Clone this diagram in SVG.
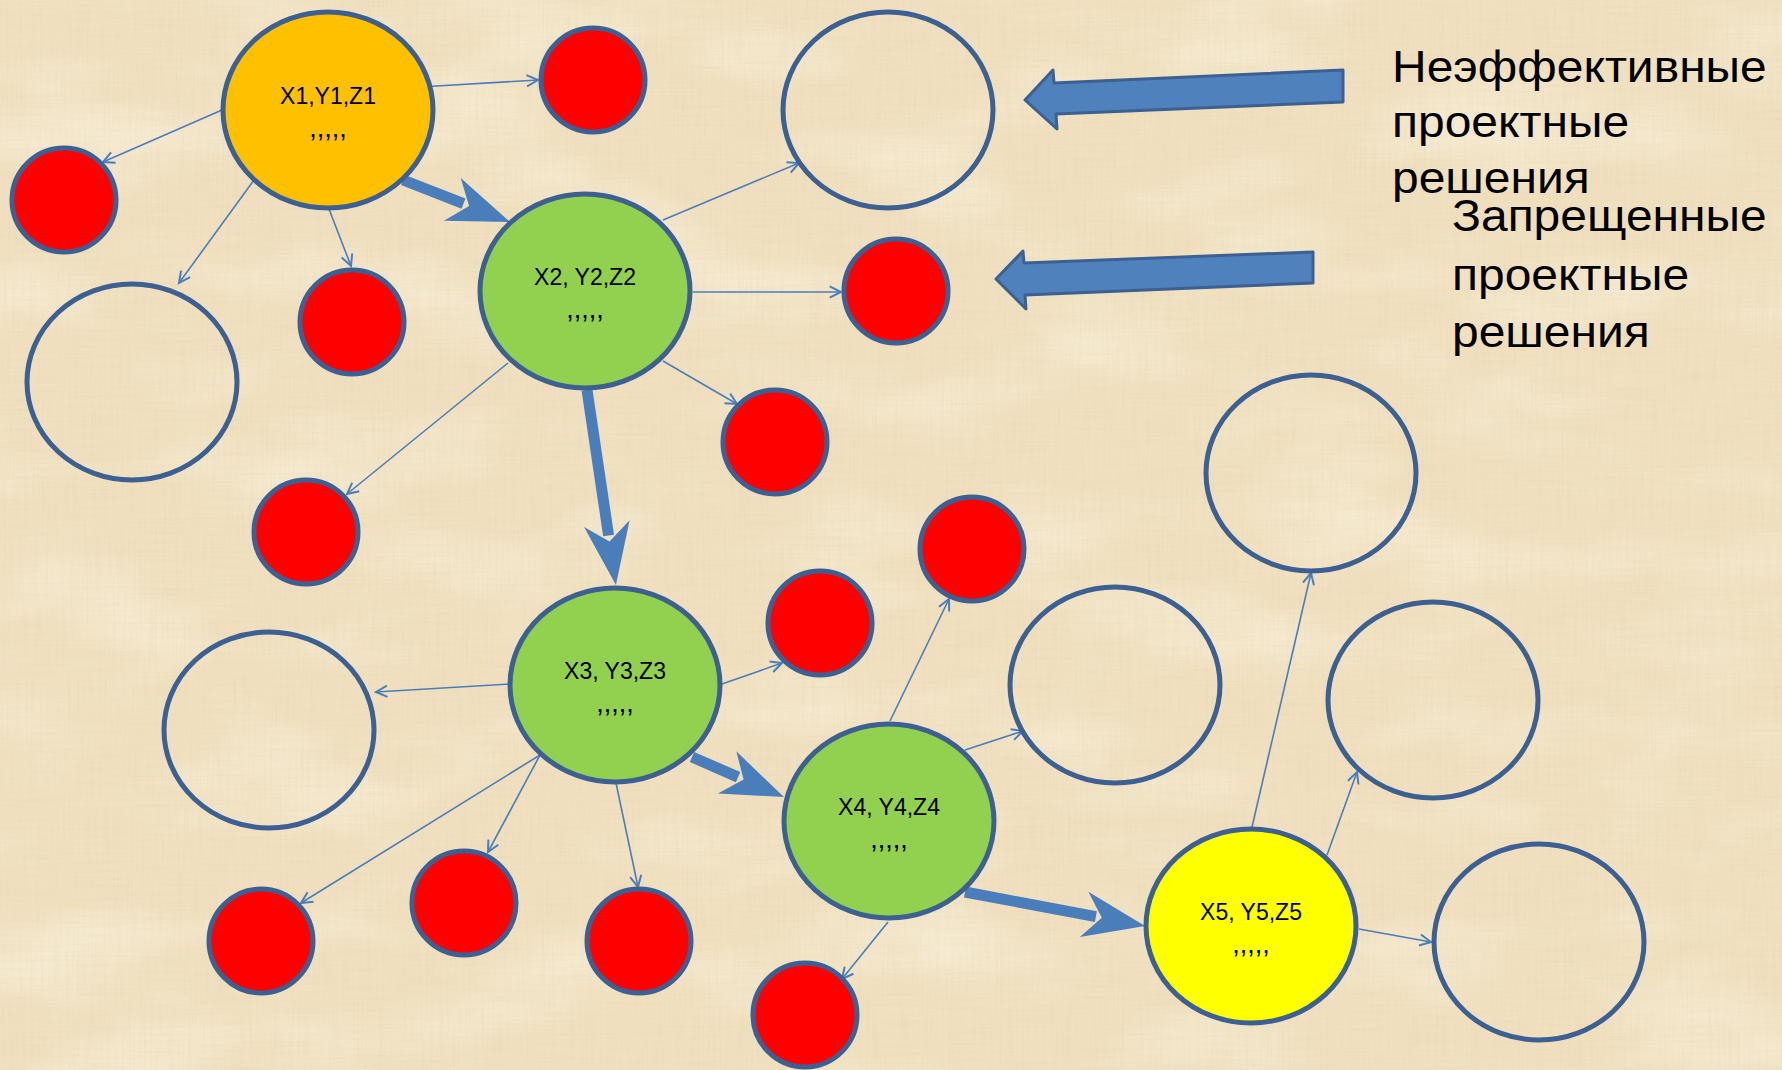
<svg xmlns="http://www.w3.org/2000/svg" width="1782" height="1070" viewBox="0 0 1782 1070">
  <defs>
    <style>
      .node { stroke: #3B6091; stroke-width: 5; }
      .empty { fill: none; }
      .red { fill: #FF0000; }
      .green { fill: #92D050; }
      .label { font-family: "Liberation Sans", Arial, sans-serif; font-size: 23px; fill: #000; text-anchor: middle; }
      .dots { font-family: "Liberation Sans", Arial, sans-serif; font-size: 27px; fill: #000; text-anchor: middle; }
      .note { font-family: "Liberation Sans", Arial, sans-serif; font-size: 45px; fill: #000; }
      .thin { stroke: #4A7EBB; stroke-width: 1.6; fill: none; marker-end: url(#open); }
      .thick { stroke: #4A7EBB; stroke-width: 11; fill: none; marker-end: url(#stealth); }
      .block { fill: #4F81BD; stroke: #3B6091; stroke-width: 3; stroke-linejoin: round; }
    </style>
    <marker id="open" markerUnits="userSpaceOnUse" orient="auto" markerWidth="20" markerHeight="20" refX="0" refY="0" viewBox="-12 -8 14 16" overflow="visible">
      <path d="M-9,-4.5 L0,0 L-9,4.5" fill="none" stroke="#4A7EBB" stroke-width="1.6"/>
    </marker>
    <marker id="stealth" markerUnits="userSpaceOnUse" orient="auto" markerWidth="80" markerHeight="60" refX="0" refY="0" viewBox="-20 -30 80 60" overflow="visible">
      <path d="M50,0 L-12,-23 L6,0 L-12,23 Z" fill="#4A7EBB"/>
    </marker>
    <filter id="fibresV" x="0" y="0" width="100%" height="100%">
      <feTurbulence type="fractalNoise" baseFrequency="0.45 0.015" numOctaves="2" seed="4"/>
      <feColorMatrix type="matrix" values="0 0 0 0 0.72  0 0 0 0 0.6  0 0 0 0 0.38  1.8 0 0 0 -0.8"/>
    </filter>
    <filter id="fibresH" x="0" y="0" width="100%" height="100%">
      <feTurbulence type="fractalNoise" baseFrequency="0.015 0.45" numOctaves="2" seed="9"/>
      <feColorMatrix type="matrix" values="0 0 0 0 0.72  0 0 0 0 0.6  0 0 0 0 0.38  1.8 0 0 0 -0.8"/>
    </filter>
    <filter id="mottle" x="0" y="0" width="100%" height="100%">
      <feTurbulence type="fractalNoise" baseFrequency="0.005 0.012" numOctaves="3" seed="2"/>
      <feColorMatrix type="matrix" values="0 0 0 0 1  0 0 0 0 0.97  0 0 0 0 0.88  2 0 0 0 -0.9"/>
    </filter>
  </defs>

  <!-- parchment background -->
  <rect width="1782" height="1070" fill="#F0E0BF"/>
  <rect width="1782" height="1070" filter="url(#mottle)" opacity="0.45"/>
  <rect width="1782" height="1070" filter="url(#fibresV)" opacity="0.22"/>
  <rect width="1782" height="1070" filter="url(#fibresH)" opacity="0.2"/>

  <!-- connectors -->
  <g id="connectors">
    <line class="thin" x1="420" y1="87" x2="538" y2="80"/>
    <line class="thin" x1="222" y1="110" x2="103" y2="162"/>
    <line class="thin" x1="254" y1="180" x2="179" y2="283"/>
    <line class="thin" x1="329" y1="209" x2="351" y2="266"/>
    <line class="thin" x1="663" y1="220" x2="799" y2="163"/>
    <line class="thin" x1="693" y1="292" x2="841" y2="292"/>
    <line class="thin" x1="663" y1="361" x2="737" y2="404"/>
    <line class="thin" x1="508" y1="363" x2="347" y2="494"/>
    <line class="thin" x1="510" y1="684" x2="376" y2="692"/>
    <line class="thin" x1="540" y1="755" x2="301" y2="903"/>
    <line class="thin" x1="540" y1="755" x2="488" y2="852"/>
    <line class="thin" x1="616" y1="783" x2="638" y2="887"/>
    <line class="thin" x1="722" y1="684" x2="782" y2="663"/>
    <line class="thin" x1="890" y1="721" x2="949" y2="599"/>
    <line class="thin" x1="965" y1="750" x2="1023" y2="731"/>
    <line class="thin" x1="888" y1="922" x2="842" y2="979"/>
    <line class="thin" x1="1252" y1="827" x2="1311" y2="573"/>
    <line class="thin" x1="1327" y1="855" x2="1357" y2="772"/>
    <line class="thin" x1="1359" y1="929" x2="1431" y2="942"/>

    <line class="thick" x1="403" y1="180" x2="463.5" y2="203.7"/>
    <line class="thick" x1="587" y1="390" x2="608.6" y2="535.5"/>
    <line class="thick" x1="692" y1="757" x2="738.1" y2="777.1"/>
    <line class="thick" x1="965" y1="892" x2="1095.9" y2="916.7"/>

    <polygon class="block" points="1343,70 1343,102 1056,114 1057,129 1025,100 1053,70 1054,83"/>
    <polygon class="block" points="1313,252 1313,283 1025,295 1026,309 996,279 1023,251 1024,263"/>
  </g>

  <!-- solution nodes -->
  <g id="n1">
    <ellipse class="node" cx="328" cy="110" rx="105" ry="98" fill="#FFC000"/>
    <text class="label" x="328" y="104">X1,Y1,Z1</text>
    <text class="dots" x="328" y="137">,,,,,</text>
  </g>
  <g id="n2">
    <ellipse class="node green" cx="585" cy="291" rx="105" ry="97"/>
    <text class="label" x="585" y="285">X2, Y2,Z2</text>
    <text class="dots" x="585" y="318">,,,,,</text>
  </g>
  <g id="n3">
    <ellipse class="node green" cx="615" cy="685" rx="105" ry="97"/>
    <text class="label" x="615" y="679">X3, Y3,Z3</text>
    <text class="dots" x="615" y="712">,,,,,</text>
  </g>
  <g id="n4">
    <ellipse class="node green" cx="889" cy="821" rx="105" ry="97"/>
    <text class="label" x="889" y="815">X4, Y4,Z4</text>
    <text class="dots" x="889" y="848">,,,,,</text>
  </g>
  <g id="n5">
    <ellipse class="node" cx="1251" cy="926" rx="105" ry="97" fill="#FFFF00"/>
    <text class="label" x="1251" y="920">X5, Y5,Z5</text>
    <text class="dots" x="1251" y="953">,,,,,</text>
  </g>

  <!-- inefficient (empty) solutions -->
  <g id="e1"><ellipse class="node empty" cx="888" cy="110" rx="105" ry="98"/></g>
  <g id="e2"><ellipse class="node empty" cx="132" cy="382" rx="105" ry="98"/></g>
  <g id="e3"><ellipse class="node empty" cx="269" cy="730" rx="105" ry="98"/></g>
  <g id="e4"><ellipse class="node empty" cx="1115" cy="685" rx="105" ry="98"/></g>
  <g id="e5"><ellipse class="node empty" cx="1311" cy="473" rx="105" ry="98"/></g>
  <g id="e6"><ellipse class="node empty" cx="1433" cy="700" rx="105" ry="98"/></g>
  <g id="e7"><ellipse class="node empty" cx="1539" cy="942" rx="105" ry="98"/></g>

  <!-- forbidden (red) solutions -->
  <g id="r1"><circle class="node red" cx="593" cy="80" r="52"/></g>
  <g id="r2"><circle class="node red" cx="64" cy="200" r="52"/></g>
  <g id="r3"><circle class="node red" cx="352" cy="322" r="52"/></g>
  <g id="r4"><circle class="node red" cx="896" cy="291" r="52"/></g>
  <g id="r5"><circle class="node red" cx="775" cy="442" r="52"/></g>
  <g id="r6"><circle class="node red" cx="306" cy="532" r="52"/></g>
  <g id="r7"><circle class="node red" cx="972" cy="549" r="52"/></g>
  <g id="r8"><circle class="node red" cx="820" cy="623" r="52"/></g>
  <g id="r9"><circle class="node red" cx="261" cy="941" r="52"/></g>
  <g id="r10"><circle class="node red" cx="464" cy="903" r="52"/></g>
  <g id="r11"><circle class="node red" cx="639" cy="941" r="52"/></g>
  <g id="r12"><circle class="node red" cx="805" cy="1015" r="52"/></g>

  <!-- legend captions, slightly widened type -->
  <g id="caption-inefficient" transform="translate(1392,0) scale(1.066,1)">
    <text class="note" x="0" y="82">Неэффективные</text>
    <text class="note" x="0" y="137">проектные</text>
    <text class="note" x="0" y="193">решения</text>
  </g>
  <g id="caption-forbidden" transform="translate(1452,0) scale(1.066,1)">
    <text class="note" x="0" y="231">Запрещенные</text>
    <text class="note" x="0" y="290">проектные</text>
    <text class="note" x="0" y="347">решения</text>
  </g>
</svg>
